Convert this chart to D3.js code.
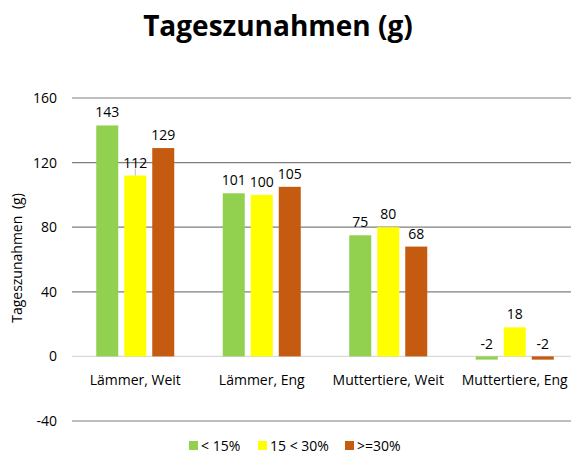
<!DOCTYPE html>
<meta charset="utf-8">
<script src="https://d3js.org/d3.v7.min.js"></script>
<style>
    body { margin: 0; background: #fff; }
    text { font-family: 'Open Sans', sans-serif; fill: #000; }
    .title { font-size: 28px; font-weight: bold; }
    .tick-label { font-size: 14px; }
    .val { font-size: 14px; }
</style>
<div id="chart"></div>
<script>
    // data
    let categories = ["Lämmer, Weit", "Lämmer, Eng", "Muttertiere, Weit", "Muttertiere, Eng"];
    let series = ["< 15%", "15 < 30%", ">=30%"];
    let colors = ["#92d050", "#ffff00", "#c55a11"];
    let values = [
        [143, 101, 75, -2],
        [112, 100, 80, 18],
        [129, 105, 68, -2]
    ];
    let yTicks = [-40, 0, 40, 80, 120, 160];

    let width = 571, height = 454;
    let margin = {top: 98, right: -7, bottom: 33, left: 72};
    let innerW = width - margin.left - margin.right,
        innerH = height - margin.top - margin.bottom;

    let svg = d3.select("#chart").append("svg")
        .attr("width", width)
        .attr("height", height);

    svg.append("text")
        .attr("class", "title")
        .attr("x", 278)
        .attr("y", 36)
        .attr("text-anchor", "middle")
        .text("Tageszunahmen (g)");

    let g = svg.append("g")
        .attr("transform", "translate(" + margin.left + "," + margin.top + ")");

    let x = d3.scaleBand().domain(categories).range([0, innerW]);
    let y = d3.scaleLinear().domain([-40, 160]).range([innerH, 0]);

    // gridlines
    g.selectAll(".grid")
        .data(yTicks)
        .enter()
        .append("line")
        .attr("x1", 0)
        .attr("x2", innerW)
        .attr("y1", d => y(d))
        .attr("y2", d => y(d))
        .attr("stroke", d => d === 0 ? "#d9d9d9" : "#7f7f7f")
        .attr("stroke-width", 1.2);

    g.selectAll(".tick-label")
        .data(yTicks)
        .enter()
        .append("text")
        .attr("class", "tick-label")
        .attr("x", -15)
        .attr("y", d => y(d) + 5)
        .attr("text-anchor", "end")
        .text(d => d);

    // bars
    let barW = 22, step = 28;
    series.forEach(function (s, i) {
        let offset = (i - 1) * step - barW / 2;
        g.selectAll(".bar" + i)
            .data(values[i])
            .enter()
            .append("rect")
            .attr("x", (d, j) => x(categories[j]) + x.bandwidth() / 2 + offset)
            .attr("y", d => y(Math.max(0, d)))
            .attr("width", barW)
            .attr("height", d => Math.abs(y(d) - y(0)))
            .attr("fill", colors[i]);

        g.selectAll(".val" + i)
            .data(values[i])
            .enter()
            .append("text")
            .attr("class", "val")
            .attr("x", (d, j) => x(categories[j]) + x.bandwidth() / 2 + offset + barW / 2)
            .attr("y", d => d < 0 ? y(0) - 7 : y(d) - 8)
            .attr("text-anchor", "middle")
            .text(d => d);
    });

    // leader line for 112 label
    g.append("line")
        .attr("x1", x(categories[0]) + x.bandwidth() / 2)
        .attr("x2", x(categories[0]) + x.bandwidth() / 2)
        .attr("y1", y(values[1][0]) - 7)
        .attr("y2", y(values[1][0]))
        .attr("stroke", "#bfbfbf");

    // category labels
    g.selectAll(".cat")
        .data(categories)
        .enter()
        .append("text")
        .attr("class", "tick-label")
        .attr("x", d => x(d) + x.bandwidth() / 2)
        .attr("y", y(0) + 29)
        .attr("text-anchor", "middle")
        .text(d => d);

    // y axis title
    svg.append("text")
        .attr("class", "tick-label")
        .attr("transform", "translate(22,258) rotate(-90)")
        .attr("text-anchor", "middle")
        .style("word-spacing", "3px")
        .text("Tageszunahmen (g)");

    // legend
    let legendX = [189, 258, 345];
    let legend = svg.selectAll(".legend")
        .data(series)
        .enter()
        .append("g")
        .attr("transform", (d, i) => "translate(" + legendX[i] + ",441)");
    legend.append("rect")
        .attr("width", 9)
        .attr("height", 9)
        .attr("fill", (d, i) => colors[i]);
    legend.append("text")
        .attr("class", "tick-label")
        .attr("x", 12)
        .attr("y", 10)
        .text(d => d);
</script>
